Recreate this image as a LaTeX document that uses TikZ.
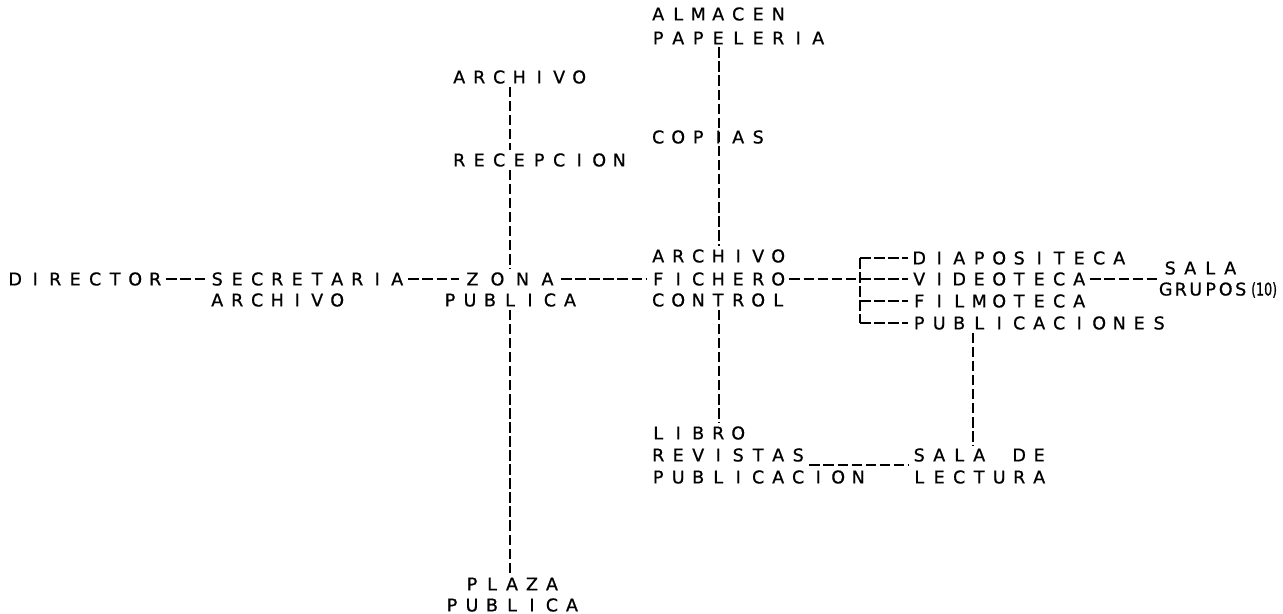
\documentclass[tikz,border=0pt]{standalone}
\usepackage{fontspec}
\newfontfamily\plotfont{DejaVu Sans}[FakeBold=0.8]
\usetikzlibrary{positioning}

% fixed letter pitch, as on the plotter
\newlength\lspitch
\setlength\lspitch{0.4cm}
\makeatletter
\newcommand\ls[1]{\ls@loop#1\relax}
\def\ls@loop#1{\ifx\relax#1\else\makebox[\lspitch][c]{#1}\expandafter\ls@loop\fi}
\makeatother
\newcommand\lsp[2]{{\setlength\lspitch{#1}\ls{#2}}}

\begin{document}
\begin{tikzpicture}[
  x=0.02cm, y=-0.02cm,
  lbl/.style={inner xsep=0.5pt,inner ysep=1.5pt,anchor=west,font=\plotfont\fontsize{10}{12}\selectfont},
  mid/.style={lbl,anchor=center},
  link/.style={line width=1.1pt,dash pattern=on 6pt off 2pt}
]
  \useasboundingbox (0,0) rectangle (1283,614);

  % upper branch
  \node[lbl] (alm) at (647,14) {\ls{ALMACEN}};
  \node[lbl] (pap) at (647,38) {\ls{PAPELERIA}};
  \node[lbl] (archtop) at (448,77) {\ls{ARCHIVO}};
  \node[lbl] (copias) at (647,137) {\ls{COPIAS}};
  \node[lbl] (recep) at (448,160) {\ls{RECEPCION}};

  % main row
  \node[lbl] (dir) at (4,279) {\ls{DIRECTOR}};
  \node[lbl] (secr) at (206,279) {\ls{SECRETARIA}};
  \node[lbl] (secarch) at (206,300) {\ls{ARCHIVO}};
  \node[mid] (zona) at (510,279) {\lsp{0.5cm}{ZONA}};
  \node[mid] (zonapub) at (510,300) {\ls{PUBLICA}};
  \node[lbl] (fcharch) at (647,256) {\ls{ARCHIVO}};
  \node[lbl] (fich) at (647,279) {\ls{FICHERO}};
  \node[lbl] (ctrl) at (647,300) {\ls{CONTROL}};

  % media
  \node[lbl] (diapo) at (908,258) {\ls{DIAPOSITECA}};
  \node[lbl] (video) at (908,279) {\ls{VIDEOTECA}};
  \node[lbl] (filmo) at (908,301) {\ls{FILMOTECA}};
  \node[lbl] (publ) at (908,323) {\ls{PUBLICACIONES}};
  \node[lbl] (sala) at (1159,268) {\ls{SALA}};
  \node[lbl] (grupos) at (1157,290) {\lsp{0.3cm}{GRUPOS}\,\scalebox{0.72}[1]{(10)}};

  % lower part
  \node[lbl] (libro) at (647,433) {\ls{LIBRO}};
  \node[lbl] (revistas) at (647,455) {\ls{REVISTAS}};
  \node[lbl] (pubn) at (647,477) {\ls{PUBLICACION}};
  \node[lbl] (salade) at (908,455) {\ls{SALA~DE}};
  \node[lbl] (lectura) at (908,477) {\ls{LECTURA}};
  \node[mid] (plaza) at (512,584) {\ls{PLAZA}};
  \node[mid] (plazapub) at (512,605) {\ls{PUBLICA}};

  \coordinate (axZ) at (510,0);
  \coordinate (axC) at (719,0);
  \coordinate (axL) at (973,0);
  \coordinate (brk) at (860,279);

  \draw[link] (dir.east) -- (secr.west);
  \draw[link] (secr.east) -- (zona.west);
  \draw[link] (zona.east) -- (fich.west);
  \draw[link] (fich.east) -- (brk);
  \draw[link] (diapo.west -| brk) -- (publ.west -| brk);
  \foreach \n in {diapo,video,filmo,publ}
    \draw[link] (\n.west -| brk) -- (\n.west);
  \draw[link] (video.east) -- (video.east -| sala.south west);

  \draw[link] (pap.south -| axC) -- (fcharch.north -| axC);
  \draw[link] (archtop.south -| axZ) -- (recep.north -| axZ);
  \draw[link] (recep.south -| axZ) -- (zona.north -| axZ);
  \draw[link] (zonapub.south -| axZ) -- (plaza.north -| axZ);
  \draw[link] (ctrl.south -| axC) -- (libro.north -| axC);
  \draw[link] (publ.south -| axL) -- (salade.north -| axL);
  \draw[link] (revistas.south east) -- (revistas.south east -| salade.west);
\end{tikzpicture}
\end{document}
